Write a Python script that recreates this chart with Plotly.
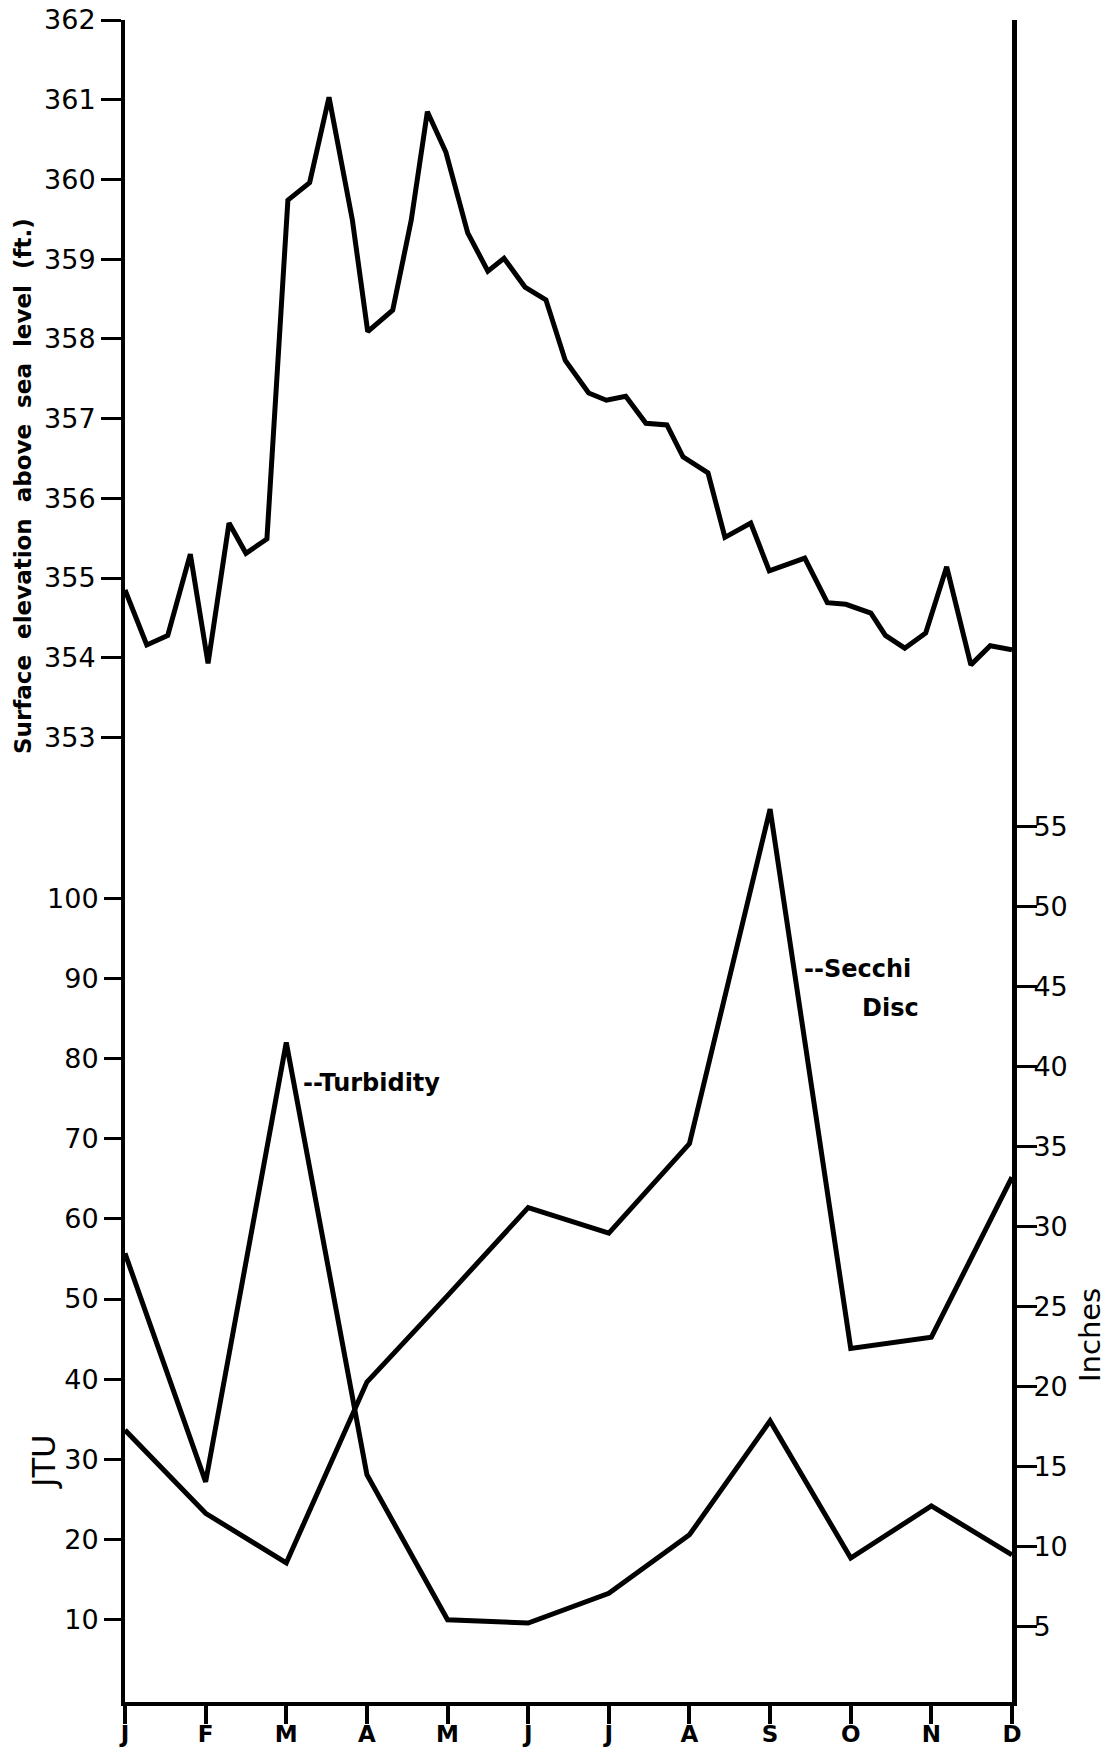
import plotly.graph_objects as go

# ---------------- data ----------------
months = ["J", "F", "M", "A", "M", "J", "J", "A", "S", "O", "N", "D"]
month_pos = list(range(12))

# lake surface elevation (ft above sea level), position in months from Jan 1
elev_time = [0.00, 0.27, 0.53, 0.81, 1.03, 1.29, 1.50, 1.76, 2.02, 2.29, 2.53,
             2.82, 3.01, 3.32, 3.55, 3.75, 3.98, 4.25, 4.50, 4.70, 4.96, 5.22,
             5.46, 5.75, 5.97, 6.21, 6.46, 6.72, 6.92, 7.23, 7.44, 7.76, 7.99,
             8.43, 8.71, 8.94, 9.25, 9.43, 9.67, 9.93, 10.19, 10.49, 10.73, 11.00]
elev_ft = [354.85, 354.16, 354.28, 355.30, 353.93, 355.69, 355.31, 355.49, 359.74,
           359.96, 361.03, 359.49, 358.09, 358.36, 359.49, 360.85, 360.34, 359.33,
           358.85, 359.01, 358.65, 358.49, 357.73, 357.32, 357.23, 357.28, 356.94,
           356.92, 356.52, 356.32, 355.51, 355.69, 355.09, 355.25, 354.69, 354.67,
           354.56, 354.28, 354.12, 354.31, 355.14, 353.91, 354.15, 354.10]

# monthly turbidity (JTU) and Secchi disc transparency (inches)
turbidity_jtu = [55.7, 27.2, 82.0, 28.1, 10.0, 9.6, 13.3, 20.6, 34.8, 17.7, 24.2, 18.1]
secchi_in = [17.3, 12.1, 9.0, 20.3, 25.7, 31.2, 29.6, 35.2, 56.1, 22.4, 23.1, 33.1]

elev_ticks = [353, 354, 355, 356, 357, 358, 359, 360, 361, 362]
jtu_ticks = [10, 20, 30, 40, 50, 60, 70, 80, 90, 100]
inch_ticks = [5, 10, 15, 20, 25, 30, 35, 40, 45, 50, 55]

# ---------------- figure ----------------
W, H = 1119, 1752
L, R, T, B = 125, 1012, 20, 1702

def px(xp):
    return (xp - L) / (R - L)

def py(yp):
    return (B - yp) / (B - T)

line_style = dict(color="black", width=5)
fig = go.Figure()
fig.add_trace(go.Scatter(x=elev_time, y=elev_ft, mode="lines", line=line_style,
                         yaxis="y", showlegend=False))
fig.add_trace(go.Scatter(x=month_pos, y=turbidity_jtu, mode="lines", line=line_style,
                         yaxis="y2", showlegend=False))
fig.add_trace(go.Scatter(x=month_pos, y=secchi_in, mode="lines", line=line_style,
                         yaxis="y3", showlegend=False))

tick_font = dict(family="DejaVu Sans", size=27, color="black")
common_y = dict(showgrid=False, zeroline=False, ticks="outside", ticklen=20,
                tickwidth=3, tickcolor="black", tickfont=tick_font, automargin=False)

fig.update_layout(
    width=W, height=H,
    margin=dict(l=L, r=W - R, t=T, b=H - B, pad=0),
    paper_bgcolor="white", plot_bgcolor="white",
    xaxis=dict(range=[0, 11], tickvals=month_pos, ticktext=months, automargin=False,
               showgrid=False, zeroline=False, showline=True, linewidth=4,
               linecolor="black", ticks="outside", ticklen=18, tickwidth=4,
               tickcolor="black", ticklabelstandoff=-10,
               tickfont=dict(family="DejaVu Sans", size=23, color="black",
                             weight="bold")),
    yaxis=dict(range=[340.90, 362], tickvals=elev_ticks, side="left",
               showline=True, linewidth=4, linecolor="black", **common_y),
    yaxis2=dict(range=[-0.25, 209.5], tickvals=jtu_ticks, side="left",
                overlaying="y", anchor="x", showline=False, **common_y),
    yaxis3=dict(range=[0.31, 105.4], tickvals=inch_ticks, side="right",
                overlaying="y", anchor="x", showline=True, linewidth=5,
                linecolor="black", ticklabelstandoff=-9, **common_y),
)

nb = "\u00a0"
words = ["Surface", "elevation", "above", "sea", "level", "(ft.)"]
title_text = (nb * 2).join(words)
fig.add_annotation(text=title_text, xref="paper", yref="paper",
                   x=px(23), y=py(486), xanchor="center", yanchor="middle",
                   showarrow=False, textangle=-90,
                   font=dict(family="DejaVu Sans", size=23, color="black",
                             weight="bold"))
fig.add_annotation(text="JTU", xref="paper", yref="paper",
                   x=px(44), y=py(1462), xanchor="center", yanchor="middle",
                   showarrow=False, textangle=-90,
                   font=dict(family="DejaVu Sans", size=32, color="black"))
fig.add_annotation(text="Inches", xref="paper", yref="paper",
                   x=px(1090), y=py(1335), xanchor="center", yanchor="middle",
                   showarrow=False, textangle=-90,
                   font=dict(family="DejaVu Sans", size=29, color="black"))

label_font = dict(family="DejaVu Sans", size=24, color="black", weight="bold")
fig.add_annotation(text="--Turbidity", xref="x", yref="y2", x=2.18, y=77,
                   xanchor="left", yanchor="middle", showarrow=False, font=label_font)
fig.add_annotation(text="--Secchi", xref="x", yref="y3", x=8.39, y=46.1,
                   xanchor="left", yanchor="middle", showarrow=False, font=label_font)
fig.add_annotation(text="Disc", xref="x", yref="y3", x=9.12, y=43.7,
                   xanchor="left", yanchor="middle", showarrow=False, font=label_font)

fig.write_html("out.html")
